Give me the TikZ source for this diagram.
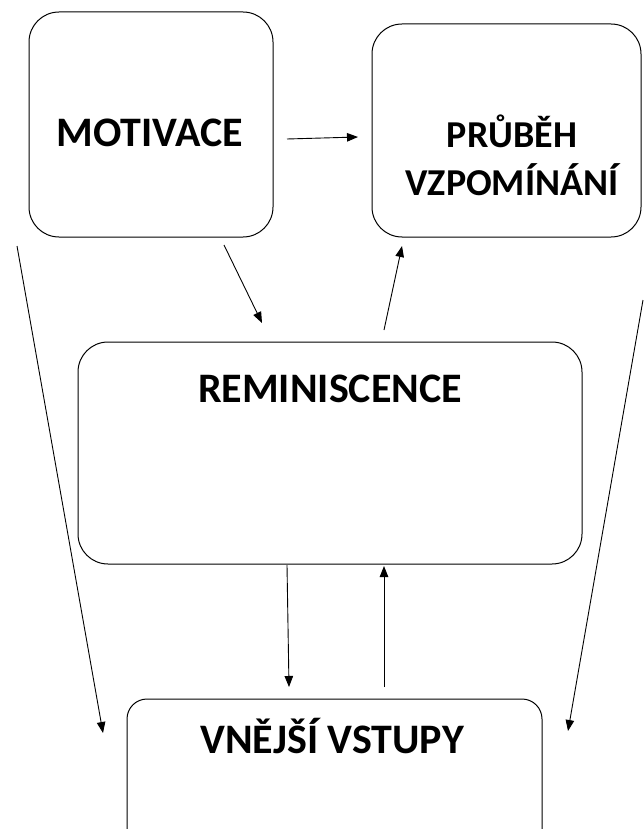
\documentclass[tikz,border=0pt]{standalone}
\usepackage{fontspec}
\setmainfont{Carlito}
\usetikzlibrary{arrows.meta}

\begin{document}
\begin{tikzpicture}[x=1pt,y=-1pt,
    box/.style={draw,line width=1pt,rounded corners=30pt},
    title/.style={font=\fontsize{42}{48}\selectfont\bfseries,inner sep=0pt,anchor=base,align=center},
    arc/.style={draw,line width=0.9pt,-{Triangle[length=11pt,width=8.5pt]}}]
        \useasboundingbox (0,0) rectangle (644,829);
        \clip (0,0) rectangle (644,829);

        % boxes
        \node[box,minimum width=244pt,minimum height=225pt] (motivace) at (151,124.5) {};
        \node[box,minimum width=269pt,minimum height=213pt] (prubeh) at (506.5,130.5) {};
        \node[box,minimum width=504pt,minimum height=222pt] (remin) at (330,453) {};
        \node[box,rounded corners=20pt,minimum width=415pt,minimum height=150pt] (vstupy) at (334.5,774) {};

        % texts
        \node[title] (tmotivace) at (150,147) {MOTIVACE};
        \node[title,font=\fontsize{38}{48}\selectfont\bfseries] (tprubeh) at (512,196) {PRŮBĚH\\VZPOMÍNÁNÍ};
        \node[title] (tremin) at (330,402) {REMINISCENCE};
        \node[title] (tvstupy) at (332,753) {VNĚJŠÍ VSTUPY};

        % arrow ends
        \foreach [count=\i] \x/\y in {287/139,224/245,384/330,287/565,384/687,17/246,643/300}{
            \coordinate (s\i) at (\x,\y);
        }
        \foreach [count=\i] \x/\y in {358/137,262/323,402/246,289/687,384/566,103/733,568/731}{
            \coordinate (e\i) at (\x,\y);
        }
        \foreach \i in {1,...,7}{
            \draw[arc] (s\i) -- (e\i);
        }
    \end{tikzpicture}
\end{document}
